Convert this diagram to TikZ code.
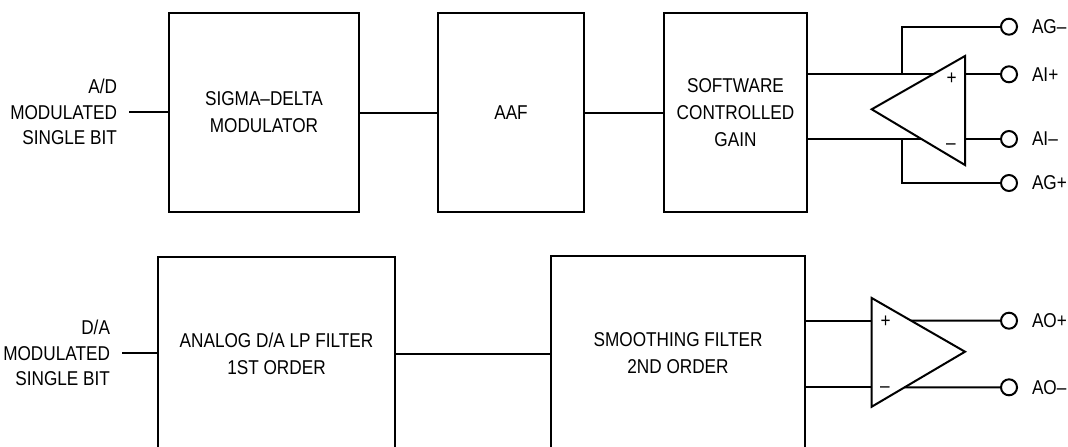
\documentclass[tikz,border=0pt]{standalone}
\usepackage{fontspec}
\setmainfont[FakeStretch=0.86]{Liberation Sans}
\usetikzlibrary{calc}

\begin{document}
\begin{tikzpicture}[x=0.5pt, y=-0.5pt, line width=1pt,
    blk/.style = {draw, inner sep=0pt, align=center, font={\fontsize{10pt}{13.5pt}\selectfont}},
    sig/.style = {inner xsep=5.5pt, inner ysep=0pt, align=right, font={\fontsize{10pt}{12.75pt}\selectfont}},
    term/.style = {draw, circle, fill=white, inner sep=0pt, minimum size=8pt},
    termlbl/.style = {inner sep=0pt, xshift=6.5pt, font={\fontsize{10pt}{12pt}\selectfont}},
    sgn/.style = {inner sep=0pt, font={\fontsize{10pt}{12pt}\selectfont}}]
    \useasboundingbox (0,0) rectangle (1068,446);
    \clip (0,0) rectangle (1068,446);

    \node[blk, minimum width=95pt, minimum height=99.5pt] (sd) at (264,112.5) {SIGMA–DELTA\\MODULATOR};
    \node[blk, minimum width=73pt, minimum height=99.5pt] (aaf) at (511,112.5) {AAF};
    \node[blk, minimum width=71.5pt, minimum height=99.5pt] (scg) at (735.5,112.5) {SOFTWARE\\CONTROLLED\\GAIN};
    \node[blk, minimum width=118.5pt, minimum height=96.5pt] (ana) at (276.5,353.5) {ANALOG D/A LP FILTER\\1ST ORDER};
    \node[blk, minimum width=127pt, minimum height=97pt] (smf) at (678,353) {SMOOTHING FILTER\\2ND ORDER};

    \node[sig, anchor=east] (adin) at (129,112) {A/D\\MODULATED\\SINGLE BIT};
    \node[sig, anchor=east] (dain) at (122,353) {D/A\\MODULATED\\SINGLE BIT};

    \draw (adin.east) -- (adin.east -| sd.west);
    \draw (sd.east) -- (aaf.west);
    \draw (aaf.east) -- (scg.west);
    \draw (dain.east) -- (dain.east -| ana.west);
    \draw (ana.east) -- (ana.east -| smf.west);

    \coordinate (uA) at (871.7,109.3);
    \coordinate (uT) at (965,56);
    \coordinate (uB) at (965,165);
    \draw (uA) -- (uT) -- (uB) -- cycle;
    \coordinate (uip) at ($(uA)!0.657!(uT)$);
    \coordinate (uin) at ($(uA)!0.533!(uB)$);
    \node[term, label={[termlbl]right:AG–}] (tagm) at (1009,26.7) {};
    \node[term, label={[termlbl]right:AI+}] (taip) at (1009,74.3) {};
    \node[term, label={[termlbl]right:AI–}] (tain) at (1009,139) {};
    \node[term, label={[termlbl]right:AG+}] (tagp) at (1009,183) {};
    \draw (scg.east |- uip) -- (uip);
    \draw (scg.east |- uin) -- (uin);
    \draw (uT |- taip) -- (taip);
    \draw (uT |- tain) -- (tain);
    \coordinate (jgm) at (901.7,74.3);
    \coordinate (jgp) at (901.7,139);
    \draw (jgm) |- (tagm);
    \draw (jgp) |- (tagp);
    \node[sgn] (up) at (951.7,78.5) {+};
    \node[sgn] (um) at (951,147) {–};

    \coordinate (lT) at (871.7,298);
    \coordinate (lB) at (871.7,406.7);
    \coordinate (lA) at (965,351.7);
    \draw (lT) -- (lA) -- (lB) -- cycle;
    \node[term, label={[termlbl]right:AO+}] (taop) at (1009,320.7) {};
    \node[term, label={[termlbl]right:AO–}] (taon) at (1009,387.3) {};
    \coordinate (lop) at ($(lT)!0.423!(lA)$);
    \coordinate (lon) at ($(lB)!0.353!(lA)$);
    \draw (smf.east |- taop) -- (lT |- taop);
    \draw (smf.east |- taon) -- (lT |- taon);
    \draw (lop) -- (taop);
    \draw (lon) -- (taon);
    \node[sgn] (lp) at (885.7,322) {+};
    \node[sgn] (lm) at (885,390) {–};
\end{tikzpicture}
\end{document}
